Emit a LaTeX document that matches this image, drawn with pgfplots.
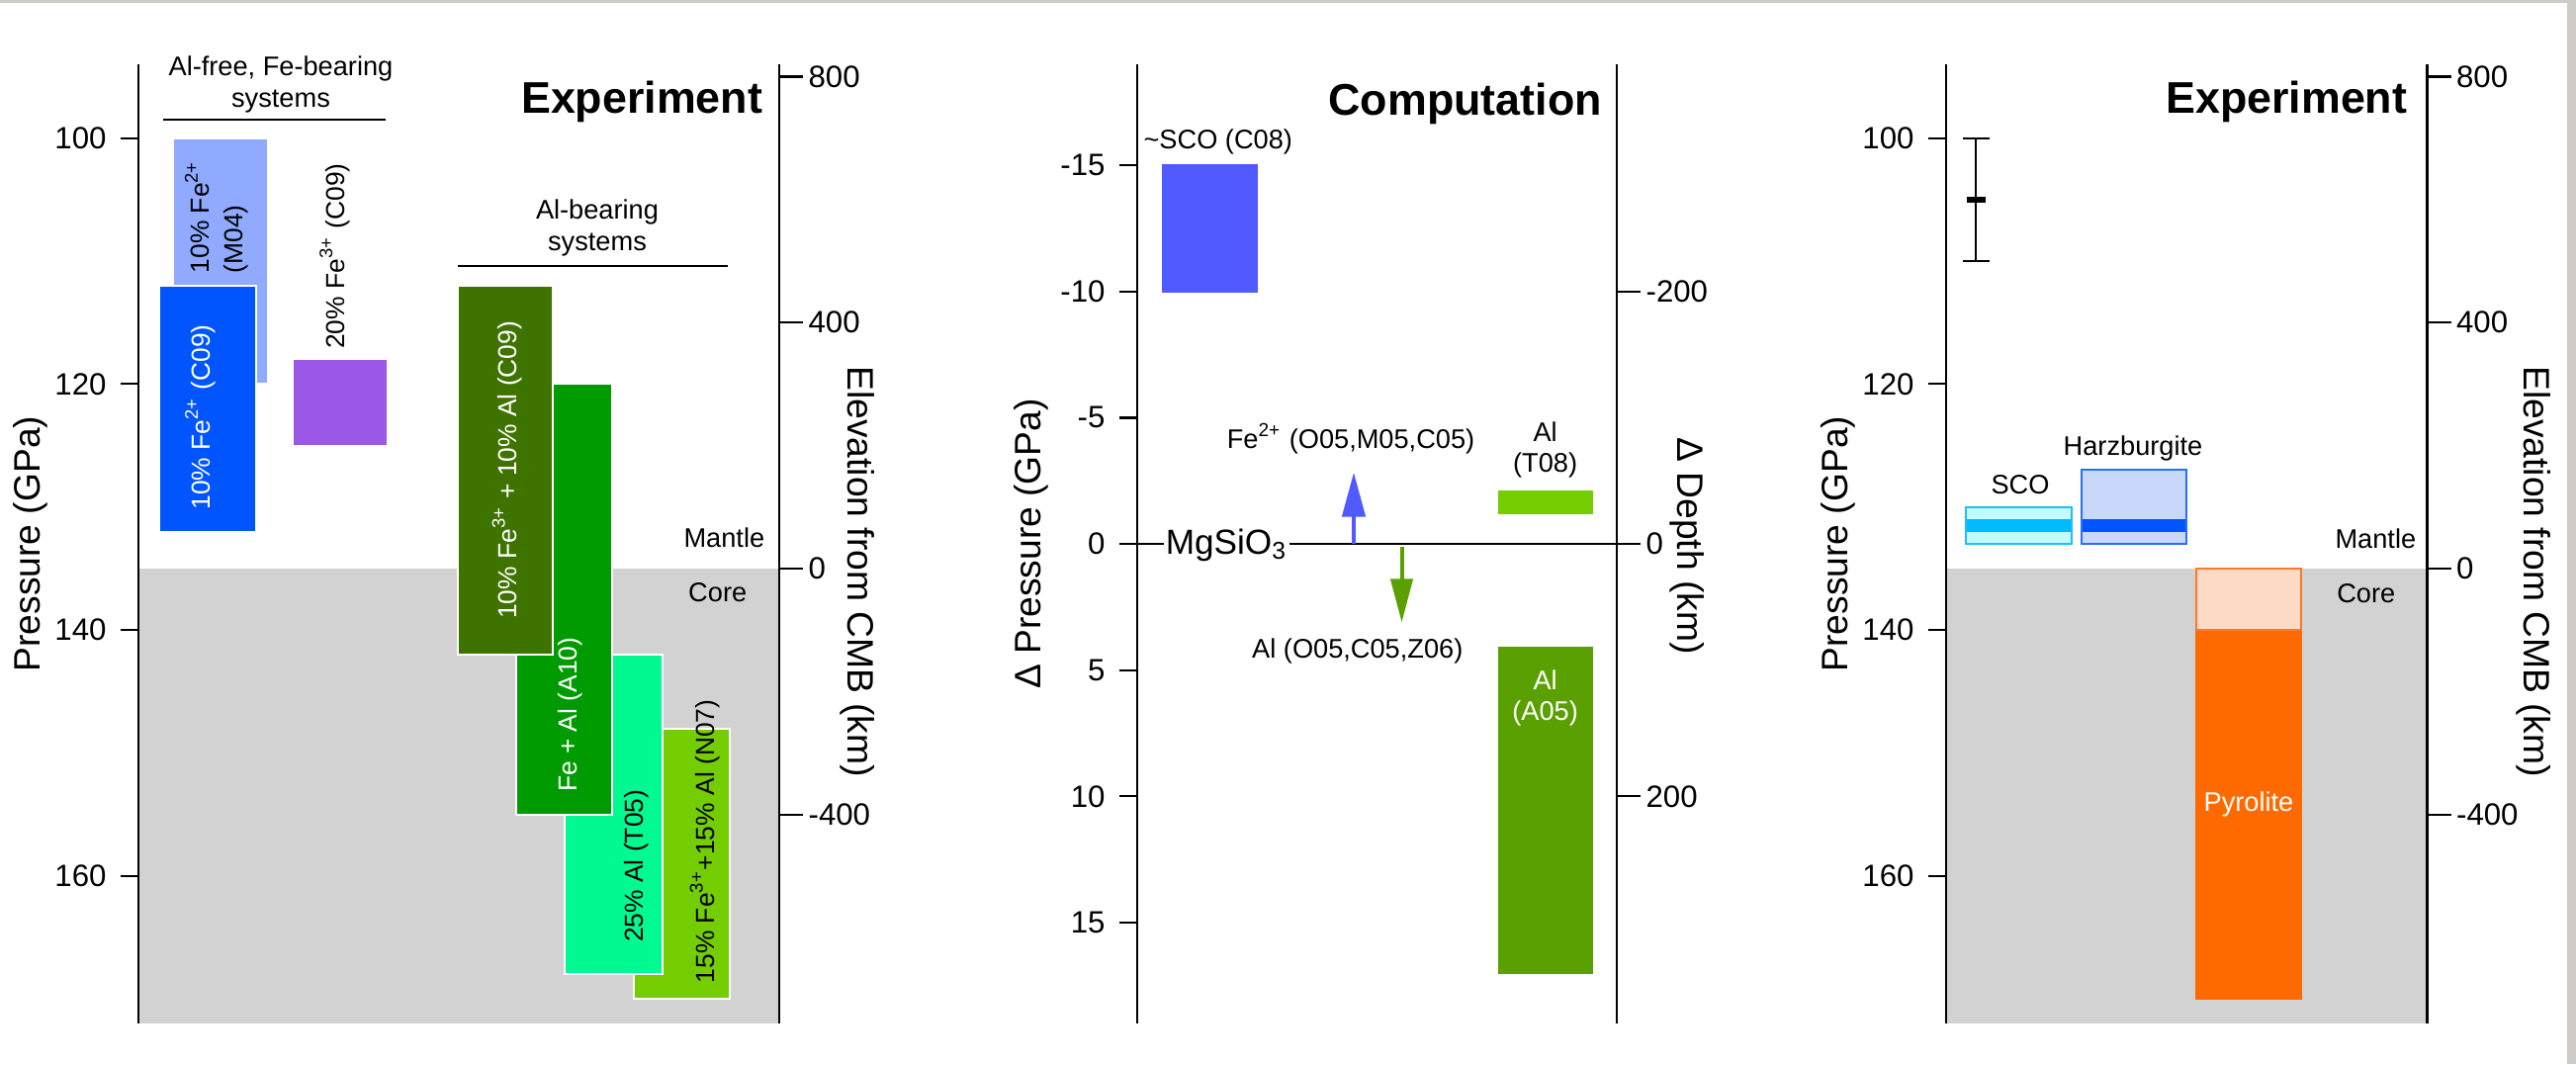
\documentclass[border=0pt]{standalone}
\usepackage{fontspec}
\setmainfont{Liberation Sans}
\usepackage{pgfplots}
\pgfplotsset{compat=1.18}
\usetikzlibrary{arrows.meta}

\definecolor{cM}{RGB}{143,170,255}
\definecolor{cC}{RGB}{0,85,255}
\definecolor{cPur}{RGB}{155,87,230}
\definecolor{cOl}{RGB}{63,115,0}
\definecolor{cA}{RGB}{0,155,0}
\definecolor{cT}{RGB}{0,250,145}
\definecolor{cN}{RGB}{115,205,0}
\definecolor{cSCO}{RGB}{80,90,255}
\definecolor{cAfive}{RGB}{90,160,0}
\definecolor{coregray}{RGB}{210,210,210}
\definecolor{scofill}{RGB}{196,251,255}
\definecolor{scoline}{RGB}{30,190,255}
\definecolor{scoband}{RGB}{0,187,255}
\definecolor{hzfill}{RGB}{200,215,250}
\definecolor{hzline}{RGB}{40,110,255}
\definecolor{hzband}{RGB}{0,85,255}
\definecolor{pyrlight}{RGB}{253,218,198}
\definecolor{pyrline}{RGB}{255,120,40}
\definecolor{pyr}{RGB}{255,106,0}
\definecolor{framegray}{RGB}{205,203,198}

\newcommand\barfont{\fontsize{6.6}{8.4}\selectfont}
\newcommand\smallfont{\fontsize{6.8}{7.8}\selectfont}
\newcommand\titlefont{\fontsize{11.2}{13}\selectfont\bfseries}

\newcommand\rbox[6]{\addplot[fill=#5, draw=#6, line width=0.5pt] coordinates {(#1,#3) (#2,#3) (#2,#4) (#1,#4)} -- cycle;}

\pgfplotsset{
  base/.style={
    scale only axis, height=242.5pt, clip=false,
    axis x line=none,
    tick align=outside,
    major tick length=4.6pt,
    tick style={black, line width=0.55pt},
    axis line style={line width=0.55pt, black},
    tick label style={font=\fontsize{7.8}{9}\selectfont},
    /pgf/number format/assume math mode=true,
    label style={font=\fontsize{9.3}{11}\selectfont},
    axis on top,
  },
  leftax/.style={base, axis y line*=left, y dir=reverse},
  rightax/.style={base, axis y line*=right, major tick length=6pt, yticklabel style={inner sep=1.2pt}},
}

\begin{document}
\begin{tikzpicture}
\fill[white] (0,0) rectangle (651.25pt,-269pt);
\path[use as bounding box] (0,0) rectangle (651.25pt,-269pt);
\fill[framegray] (0,0) rectangle (651.25pt,-0.8pt);
\fill[framegray] (649pt,0) rectangle (651.25pt,-269pt);

% ---------------- Panel 1 ----------------
\begin{axis}[leftax, at={(35pt,-16.25pt)}, anchor=north west, width=162pt,
  xmin=140, xmax=788, ymin=94, ymax=172, ytick={100,120,140,160},
  ylabel={Pressure (GPa)},
  ylabel style={at={(axis description cs:-0.169,0.5)}, anchor=center}]
\addplot[draw=none, fill=coregray] coordinates {(140,135) (788,135) (788,172) (140,172)} -- cycle;
\rbox{175}{271}{100}{120}{cM}{white}
\rbox{161}{259}{112}{132}{cC}{white}
\rbox{296}{392}{118}{125}{cPur}{white}
\rbox{641}{738}{148}{170}{cN}{white}
\rbox{571}{670}{142}{168}{cT}{white}
\rbox{522}{619}{120}{155}{cA}{white}
\rbox{463}{559}{112}{142}{cOl}{white}
\addplot[black, line width=0.5pt] coordinates {(165,98.5) (390,98.5)};
\addplot[black, line width=0.5pt] coordinates {(463,110.4) (736,110.4)};
\node[align=center, font=\smallfont] at (axis cs:284,95.65) {Al-free, Fe-bearing\\systems};
\node[align=center, font=\smallfont] at (axis cs:604,107.3) {Al-bearing\\systems};
\node[rotate=90, align=left, font=\barfont] at (axis cs:219,106.4) {10\% Fe\textsuperscript{2+}\\(M04)};
\node[rotate=90, font=\barfont, white] at (axis cs:202.5,122.7) {10\% Fe\textsuperscript{2+} (C09)};
\node[rotate=90, font=\barfont] at (axis cs:338.5,109.6) {20\% Fe\textsuperscript{3+} (C09)};
\node[rotate=90, font=\barfont, white] at (axis cs:513,127) {10\% Fe\textsuperscript{3+} + 10\% Al (C09)};
\node[rotate=90, font=\barfont, white] at (axis cs:577,146.9) {Fe + Al (A10)};
\node[rotate=90, font=\barfont] at (axis cs:644,159.2) {25\% Al (T05)};
\node[rotate=90, font=\barfont] at (axis cs:713,157.2) {15\% Fe\textsuperscript{3+}+15\% Al (N07)};
\node[anchor=base east, inner sep=0pt, font=\smallfont] at (axis cs:774,133.3) {Mantle};
\node[anchor=base east, inner sep=0pt, font=\smallfont] at (axis cs:756,137.7) {Core};
\node[anchor=base east, inner sep=0pt, font=\titlefont] at (axis cs:772,98) {Experiment};
\end{axis}
\begin{axis}[rightax, at={(35pt,-16.25pt)}, anchor=north west, width=162pt,
  xmin=140, xmax=788, ymin=-740, ymax=820, ytick={-400,0,400,800},
  ylabel={Elevation from CMB (km)},
  ylabel style={at={(axis description cs:1.122,0.471)}, anchor=center, rotate=180}]
\end{axis}

% ---------------- Panel 2 ----------------
\begin{axis}[leftax, at={(287.5pt,-16.25pt)}, anchor=north west, width=121.25pt,
  xmin=1150, xmax=1635, ymin=-19, ymax=19, ytick={-15,-10,-5,0,5,10,15},
  ylabel={Δ Pressure (GPa)},
  ylabel style={at={(axis description cs:-0.2206,0.5)}, anchor=center}]
\rbox{1176.4}{1270.6}{-15}{-10}{cSCO}{cSCO}
\rbox{1516}{1610}{-2.09}{-1.23}{cN}{cN}
\rbox{1516}{1610}{4.1}{17}{cAfive}{cAfive}
\addplot[black, line width=0.5pt] coordinates {(1150,0) (1635,0)};
\addplot[cSCO, line width=1pt, -{Triangle[width=5.8pt,length=11.2pt]}] coordinates {(1369,0) (1369,-2.83)};
\addplot[cAfive, line width=1pt, -{Triangle[width=5.5pt,length=11pt]}] coordinates {(1417.5,0.1) (1417.5,3.11)};
\node[anchor=base west, fill=white, inner sep=0.5pt, font=\fontsize{8.8}{10}\selectfont] at (axis cs:1176,0.42) {MgSiO\textsubscript{3}};
\node[font=\smallfont] at (axis cs:1231.8,-15.93) {\textasciitilde SCO (C08)};
\node[font=\smallfont] at (axis cs:1366,-4.16) {Fe\textsuperscript{2+} (O05,M05,C05)};
\node[font=\smallfont, align=center] at (axis cs:1562.6,-3.73) {Al\\(T08)};
\node[font=\smallfont] at (axis cs:1372.8,4.25) {Al (O05,C05,Z06)};
\node[font=\smallfont, align=center, white] at (axis cs:1562.6,6.1) {Al\\(A05)};
\node[anchor=base east, inner sep=0pt, font=\titlefont] at (axis cs:1620.6,-16.97) {Computation};
\end{axis}
\begin{axis}[rightax, at={(287.5pt,-16.25pt)}, anchor=north west, width=121.25pt,
  xmin=1150, xmax=1635, ymin=-380, ymax=380, y dir=reverse, ytick={-200,0,200},
  ylabel={Δ Depth (km)},
  ylabel style={at={(axis description cs:1.146,0.498)}, anchor=center, rotate=180}]
\end{axis}

% ---------------- Panel 3 ----------------
\begin{axis}[leftax, at={(492pt,-16.25pt)}, anchor=north west, width=121.625pt,
  xmin=1968, xmax=2454.5, ymin=94, ymax=172, ytick={100,120,140,160},
  ylabel={Pressure (GPa)},
  ylabel style={at={(axis description cs:-0.224,0.5)}, anchor=center}]
\addplot[draw=none, fill=coregray] coordinates {(1968,135) (2454.5,135) (2454.5,172) (1968,172)} -- cycle;
\addplot[black, line width=0.5pt] coordinates {(1998,100) (1998,110)};
\addplot[black, line width=0.5pt] coordinates {(1985,100) (2012,100)};
\addplot[black, line width=0.5pt] coordinates {(1985,110) (2012,110)};
\addplot[black, line width=1.5pt] coordinates {(1989,105) (2008,105)};
\rbox{1988}{2095}{130}{133}{scofill}{scoline}
\addplot[fill=scoband, draw=none] coordinates {(1989,131) (2094,131) (2094,132) (1989,132)} -- cycle;
\rbox{2105}{2211}{127}{133}{hzfill}{hzline}
\addplot[fill=hzband, draw=none] coordinates {(2106,131) (2210,131) (2210,132) (2106,132)} -- cycle;
\rbox{2221}{2327}{140}{170}{pyr}{pyr}
\rbox{2221}{2327}{135}{140}{pyrlight}{pyrline}
\node[font=\smallfont] at (axis cs:2043,128.2) {SCO};
\node[font=\smallfont] at (axis cs:2157,125.2) {Harzburgite};
\node[font=\smallfont, white] at (axis cs:2274,154.2) {Pyrolite};
\node[anchor=base east, inner sep=0pt, font=\smallfont] at (axis cs:2444,133.4) {Mantle};
\node[anchor=base east, inner sep=0pt, font=\smallfont] at (axis cs:2423,137.8) {Core};
\node[anchor=base east, inner sep=0pt, font=\titlefont] at (axis cs:2435,98) {Experiment};
\end{axis}
\begin{axis}[rightax, at={(492pt,-16.25pt)}, anchor=north west, width=121.625pt,
  xmin=1968, xmax=2454.5, ymin=-740, ymax=820, ytick={-400,0,400,800},
  ylabel={Elevation from CMB (km)},
  ylabel style={at={(axis description cs:1.221,0.471)}, anchor=center, rotate=180}]
\end{axis}
\end{tikzpicture}
\end{document}
